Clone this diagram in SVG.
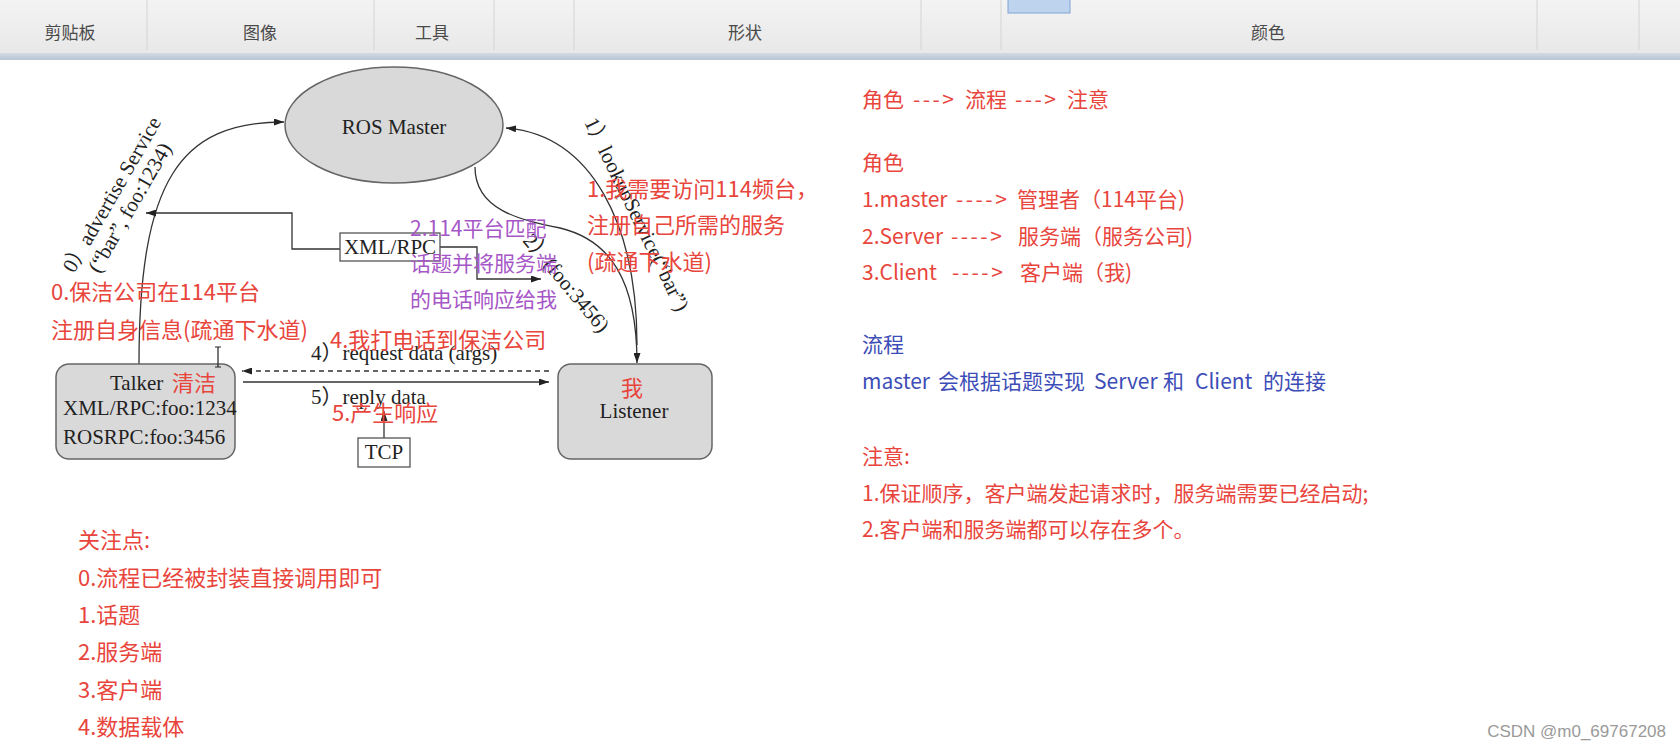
<svg xmlns="http://www.w3.org/2000/svg" width="1680" height="748" viewBox="0 0 1680 748">
<defs>
<linearGradient id="rib" x1="0" y1="0" x2="0" y2="1"><stop offset="0" stop-color="#f3f3f3"/><stop offset="1" stop-color="#e8e8e8"/></linearGradient>
<linearGradient id="band" x1="0" y1="0" x2="0" y2="1"><stop offset="0" stop-color="#d2dae5"/><stop offset="1" stop-color="#b9c5d5"/></linearGradient>
<marker id="ah" viewBox="0 0 10 7" refX="10" refY="3.5" markerWidth="10" markerHeight="7" markerUnits="userSpaceOnUse" orient="auto"><path d="M0,0 L10,3.5 L0,7 z" fill="#222"/></marker>
</defs>
<style>
.rb{font-family:'Noto Sans CJK SC',sans-serif;font-size:17px;fill:#4a4a4a;text-anchor:middle}
.sep{stroke:#d4d4d4;stroke-width:1}
.tm{font-family:'Liberation Serif','Noto Sans CJK SC',serif;fill:#222;font-size:21px}
.ln{fill:none;stroke:#333;stroke-width:1.3}
.box{fill:#d9d9d9;stroke:#666;stroke-width:1.5}
.r{font-family:'Noto Sans CJK SC',sans-serif;fill:#e8453c;font-size:22px}
.p{font-family:'Noto Sans CJK SC',sans-serif;fill:#a657c7;font-size:21px}
.n{font-family:'Noto Sans CJK SC',sans-serif;fill:#e8453c;font-size:21px}
.b{font-family:'Noto Sans CJK SC',sans-serif;fill:#3d4db7;font-size:21px}
.ar{letter-spacing:2.5px}
</style>
<rect width="1680" height="748" fill="#ffffff"/>
<g id="ribbon">
<rect x="0" y="0" width="1680" height="54" fill="url(#rib)"/>
<rect x="0" y="53" width="1680" height="7" fill="url(#band)"/>
<line class="sep" x1="147" y1="0" x2="147" y2="50"/>
<line class="sep" x1="374" y1="0" x2="374" y2="50"/>
<line class="sep" x1="494" y1="0" x2="494" y2="50"/>
<line class="sep" x1="574" y1="0" x2="574" y2="50"/>
<line class="sep" x1="921" y1="0" x2="921" y2="50"/>
<line class="sep" x1="1001" y1="0" x2="1001" y2="50"/>
<line class="sep" x1="1537" y1="0" x2="1537" y2="50"/>
<line class="sep" x1="1639" y1="0" x2="1639" y2="50"/>
<rect x="1008" y="-2" width="62" height="15" fill="#bdd3ee" stroke="#7fa3d2" stroke-width="1"/>
<text class="rb" x="70" y="39">剪贴板</text>
<text class="rb" x="260" y="39">图像</text>
<text class="rb" x="432" y="39">工具</text>
<text class="rb" x="745" y="39">形状</text>
<text class="rb" x="1268" y="39">颜色</text>
</g>
<g id="connectors">
<path class="ln" d="M139,364 C139,180 180,122 284,122" marker-end="url(#ah)"/>
<polyline class="ln" points="340,249 292,249 292,213 146,213" marker-end="url(#ah)"/>
<polyline class="ln" points="440,247 477,247 477,279 541,279" marker-end="url(#ah)"/>
<path class="ln" d="M637,345 C637,225 592,135 506,128" marker-end="url(#ah)"/>
<path class="ln" d="M475,167 C475,210 520,220 560,228 C610,240 637,280 637,363" marker-end="url(#ah)"/>
<line class="ln" x1="549" y1="371" x2="242" y2="371" stroke-dasharray="5,4" marker-end="url(#ah)"/>
<line class="ln" x1="243" y1="382" x2="549" y2="382" marker-end="url(#ah)"/>
<line class="ln" x1="384" y1="438" x2="384" y2="411" marker-end="url(#ah)"/>
<text class="tm" transform="translate(74,274) rotate(-60)"><tspan x="0" y="0">0）advertise Service</tspan><tspan x="12.5" y="22">(“bar”, foo:1234)</tspan></text>
<text class="tm" transform="translate(584,122) rotate(64)">1）lookupService(“bar”)</text>
<text class="tm" transform="translate(522,241) rotate(50)">2）(foo:3456)</text>
<text class="tm" x="311" y="360">4）request data (args)</text>
<text class="tm" x="311" y="404">5）reply data</text>
</g>
<g id="master">
<ellipse cx="394" cy="125" rx="109" ry="58" class="box" stroke="#555"/>
<text class="tm" x="394" y="134" text-anchor="middle">ROS Master</text>
</g>
<g id="xmlrpc">
<rect x="340" y="233" width="100" height="28" fill="#ffffff" stroke="#555" stroke-width="1.3"/>
<text class="tm" x="390" y="254" text-anchor="middle">XML/RPC</text>
</g>
<g id="talker">
<rect x="56" y="364" width="179" height="95" rx="13" class="box"/>
<text class="tm" x="110" y="390">Talker</text>
<text class="r" x="172" y="391" font-size="21">清洁</text>
<text class="tm" x="63" y="415" font-size="19.5">XML/RPC:foo:1234</text>
<text class="tm" x="63" y="444" font-size="19.5">ROSRPC:foo:3456</text>
</g>
<g id="listener">
<rect x="558" y="364" width="154" height="95" rx="13" class="box"/>
<text class="r" x="632" y="396" text-anchor="middle" font-size="23">我</text>
<text class="tm" x="634" y="418" text-anchor="middle">Listener</text>
</g>
<g id="tcp">
<rect x="358" y="438" width="52" height="29" fill="#ffffff" stroke="#555" stroke-width="1.3"/>
<text class="tm" x="384" y="459" text-anchor="middle" font-size="20">TCP</text>
</g>
<path d="M215,347 h6 M218,347 v20 M215,367 h6" stroke="#222" stroke-width="1.2" fill="none"/>
<g id="notes-diagram">
<text class="r" x="51" y="300">0.保洁公司在114平台</text>
<text class="r" x="51" y="338">注册自身信息(疏通下水道)</text>
<text class="r" x="587" y="197">1.我需要访问114频台，</text>
<text class="r" x="587" y="233">注册自己所需的服务</text>
<text class="r" x="587" y="270">(疏通下水道)</text>
<text class="p" x="410" y="236">2.114平台匹配</text>
<text class="p" x="410" y="271">话题并将服务端</text>
<text class="p" x="410" y="307">的电话响应给我</text>
<text class="r" x="330" y="348">4.我打电话到保洁公司</text>
<text class="r" x="332" y="421" font-size="21">5.产生响应</text>
</g>
<g id="focus-list">
<text class="r" x="78" y="548" font-size="21.5">关注点:</text>
<text class="r" x="78" y="586" font-size="21.5">0.流程已经被封装直接调用即可</text>
<text class="r" x="78" y="623" font-size="21.5">1.话题</text>
<text class="r" x="78" y="660" font-size="21.5">2.服务端</text>
<text class="r" x="78" y="698" font-size="21.5">3.客户端</text>
<text class="r" x="78" y="735" font-size="21.5">4.数据载体</text>
</g>
<g id="right-notes">
<text class="n" y="107"><tspan x="862">角色</tspan><tspan x="913" class="ar">---&gt;</tspan><tspan x="965">流程</tspan><tspan x="1015" class="ar">---&gt;</tspan><tspan x="1067">注意</tspan></text>
<text class="n" x="862" y="170">角色</text>
<text class="n" y="207"><tspan x="862">1.master</tspan><tspan x="956" class="ar">----&gt;</tspan><tspan x="1017">管理者</tspan><tspan x="1080">（114平台)</tspan></text>
<text class="n" y="244"><tspan x="862">2.Server</tspan><tspan x="951" class="ar">----&gt;</tspan><tspan x="1018">服务端</tspan><tspan x="1081">（服务公司)</tspan></text>
<text class="n" y="280"><tspan x="862">3.Client</tspan><tspan x="952" class="ar">----&gt;</tspan><tspan x="1020">客户端</tspan><tspan x="1083">（我)</tspan></text>
<text class="b" x="862" y="352">流程</text>
<text class="b" y="389"><tspan x="862">master</tspan><tspan x="938">会根据话题实现</tspan><tspan x="1094">Server</tspan><tspan x="1163">和</tspan><tspan x="1195">Client</tspan><tspan x="1263">的连接</tspan></text>
<text class="n" x="862" y="464">注意:</text>
<text class="n" x="862" y="501">1.保证顺序，客户端发起请求时，服务端需要已经启动;</text>
<text class="n" x="862" y="537">2.客户端和服务端都可以存在多个。</text>
</g>
<text x="1666" y="737" text-anchor="end" font-family="'Liberation Sans',sans-serif" font-size="17" fill="#9a9a9a">CSDN @m0_69767208</text>
</svg>
